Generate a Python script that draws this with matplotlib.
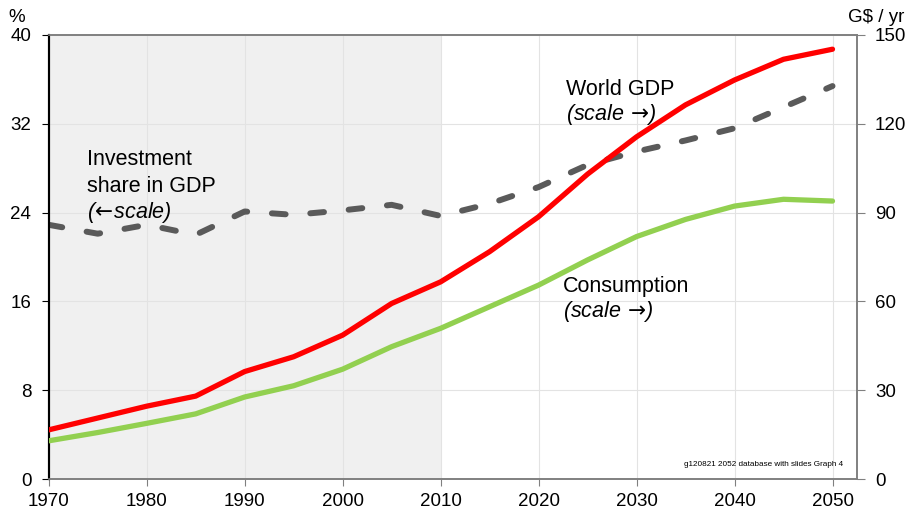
import matplotlib
matplotlib.use("Agg")
import matplotlib.pyplot as plt

plt.rcParams['font.family'] = ['Liberation Sans', 'DejaVu Sans']
plt.rcParams['mathtext.fontset'] = 'dejavusans'

years = [1970, 1975, 1980, 1985, 1990, 1995, 2000, 2005, 2010,
         2015, 2020, 2025, 2030, 2035, 2040, 2045, 2050]
world_gdp = [16.6, 20.6, 24.6, 28.0, 36.3, 41.3, 48.6, 59.3, 66.6,
             76.8, 88.6, 103.0, 115.6, 126.4, 134.8, 141.8, 145.2]
consumption = [12.9, 15.7, 18.8, 22.0, 27.7, 31.5, 37.1, 44.7, 50.9,
               58.2, 65.5, 74.0, 81.9, 87.7, 92.2, 94.5, 93.9]
investment_share = [22.9, 22.1, 22.9, 22.0, 24.1, 23.8, 24.2, 24.7, 23.7,
                    24.8, 26.3, 28.3, 29.5, 30.5, 31.6, 33.5, 35.4]

x_ticks = [1970, 1980, 1990, 2000, 2010, 2020, 2030, 2040, 2050]
left_ticks = [0, 8, 16, 24, 32, 40]
right_ticks = [0, 30, 60, 90, 120, 150]
history_span = (1970, 2010)

W, H = 910, 514
fig = plt.figure(figsize=(W / 100, H / 100), dpi=100)
ax = fig.add_axes([48.7 / W, 35 / H, (857 - 48.7) / W, (479 - 35) / H])
ax2 = ax.twinx()

ax.set_xlim(1970, 2052.5)
ax.set_ylim(0, 40)
ax2.set_ylim(0, 150)

ax.axvspan(history_span[0], history_span[1], color='#f0f0f0', zorder=0, lw=0)
ax.set_axisbelow(True)
ax.grid(True, color='#e3e3e3', linewidth=0.8, zorder=0.5)

ax.plot(years, investment_share, color='#5a5a5a', linewidth=4.3,
        dashes=(2.3, 4.15), dash_capstyle='round', zorder=3)
ax2.plot(years, consumption, color='#92d050', linewidth=3.8,
         solid_capstyle='round', solid_joinstyle='round', zorder=3)
ax2.plot(years, world_gdp, color='#ff0000', linewidth=3.8,
         solid_capstyle='round', solid_joinstyle='round', zorder=4)

ax.set_xticks(x_ticks)
ax.set_yticks(left_ticks)
ax2.set_yticks(right_ticks)

fs = 13.5
ax.tick_params(axis='x', labelsize=fs, colors='#000000', length=5, pad=5,
               color='#808080', direction='out')
ax.tick_params(axis='y', labelsize=fs, length=5, pad=7.5, color='#000000',
               direction='out')
ax2.tick_params(axis='y', labelsize=fs, length=6, pad=7, color='#808080',
                direction='out')

for a in (ax, ax2):
    for s in ('top', 'right', 'bottom'):
        a.spines[s].set_color('#808080')
        a.spines[s].set_linewidth(1.2)
    a.spines['left'].set_color('#000000')
    a.spines['left'].set_linewidth(1.5)

tfs = 15.5
ax.text(1973.9, 28.29, 'Investment', fontsize=tfs, va='baseline')
ax.text(1973.9, 25.88, 'share in GDP', fontsize=tfs, va='baseline')
ax.text(1973.9, 23.55, r'($\!\leftarrow\!$scale)', fontsize=tfs, va='baseline',
        style='italic')

ax.text(2022.8, 34.6, 'World GDP', fontsize=tfs, va='baseline')
ax.text(2022.8, 32.3, r'(scale $\!\rightarrow\!$)', fontsize=tfs, va='baseline',
        style='italic')

ax.text(2022.45, 16.87, 'Consumption', fontsize=tfs, va='baseline')
ax.text(2022.45, 14.62, r'(scale $\!\rightarrow\!$)', fontsize=tfs, va='baseline',
        style='italic')

fig.text(843.5 / W, 1 - 465.7 / H, 'g120821 2052 database with slides Graph 4',
         fontsize=5.9, ha='right', va='baseline')

fig.text(8 / W, 1 - 22 / H, '%', fontsize=fs, va='baseline')
fig.text(904 / W, 1 - 22 / H, 'G$ / yr', fontsize=fs, ha='right', va='baseline')

fig.savefig('out.png', dpi=100)
